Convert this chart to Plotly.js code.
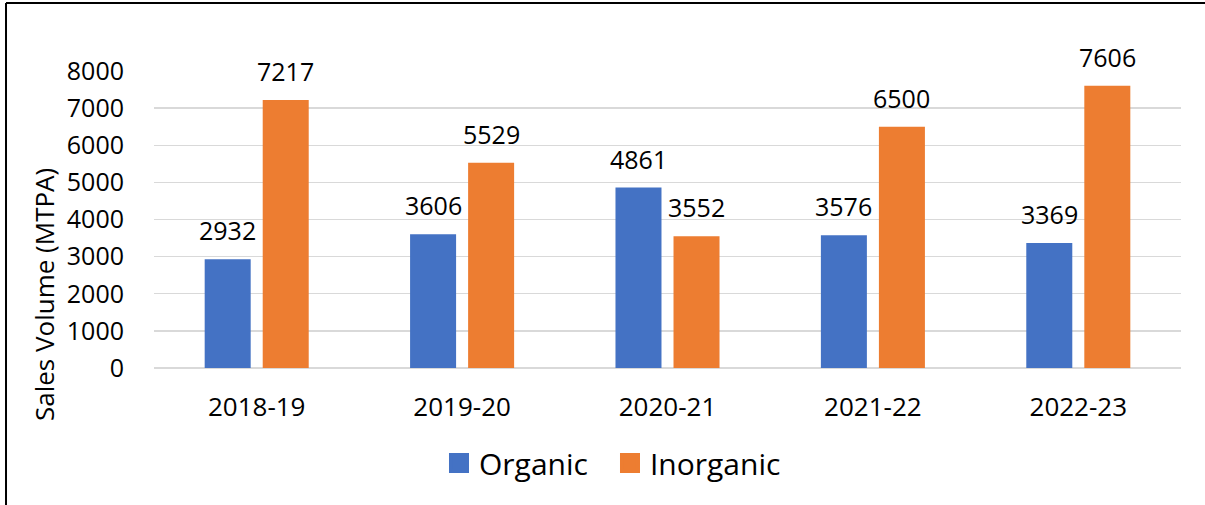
<!DOCTYPE html>
<html>
<head>
<meta charset="utf-8">
<script src="https://cdn.plot.ly/plotly-3.0.1.min.js"></script>
<style>
html,body{margin:0;padding:0;background:#fff;}
#chart{width:1205px;height:505px;}
</style>
</head>
<body>
<div id="chart"></div>
<script>
const categories = ['2018-19', '2019-20', '2020-21', '2021-22', '2022-23'];
const organic = [2932, 3606, 4861, 3576, 3369];
const inorganic = [7217, 5529, 3552, 6500, 7606];
const seriesNames = ['Organic', 'Inorganic'];
const yAxisTitle = 'Sales Volume (MTPA)';

const BLUE = '#4472C4';
const ORANGE = '#ED7D31';
const FONT = 'Open Sans, Noto Sans, sans-serif';

const traces = [
  {type: 'bar', name: seriesNames[0], x: categories, y: organic, marker: {color: BLUE}, showlegend: false, hoverinfo: 'x+y'},
  {type: 'bar', name: seriesNames[1], x: categories, y: inorganic, marker: {color: ORANGE}, showlegend: false, hoverinfo: 'x+y'},
  // legend entries (larger square symbols)
  {type: 'scatter', mode: 'markers', name: seriesNames[0], x: [categories[0]], y: [null],
   marker: {symbol: 'square', size: 16, color: BLUE, line: {color: BLUE, width: 4}}, hoverinfo: 'skip'},
  {type: 'scatter', mode: 'markers', name: seriesNames[1], x: [categories[0]], y: [null],
   marker: {symbol: 'square', size: 16, color: ORANGE, line: {color: ORANGE, width: 4}}, hoverinfo: 'skip'}
];

const annotations = [];
categories.forEach((c, i) => {
  annotations.push({x: c, y: organic[i], text: String(organic[i]), xref: 'x', yref: 'y',
    xshift: -29, yshift: 10, yanchor: 'bottom', showarrow: false, font: {family: FONT, size: 25, color: '#000'}});
  annotations.push({x: c, y: inorganic[i], text: String(inorganic[i]), xref: 'x', yref: 'y',
    xshift: 29, yshift: 10, yanchor: 'bottom', showarrow: false, font: {family: FONT, size: 25, color: '#000'}});
});
annotations.push({text: yAxisTitle, xref: 'paper', yref: 'paper', x: -0.1071, y: 0.2458,
  xanchor: 'center', yanchor: 'middle', textangle: -90, showarrow: false,
  font: {family: FONT, size: 26, color: '#000'}});

const layout = {
  width: 1205, height: 505,
  margin: {l: 154, r: 24, t: 71, b: 137},
  paper_bgcolor: '#fff', plot_bgcolor: '#fff',
  font: {family: FONT, color: '#000'},
  barmode: 'group', bargap: 0.435, bargroupgap: 0.207,
  xaxis: {
    type: 'category', showgrid: false, zeroline: false, showline: false,
    ticks: 'outside', ticklen: 16, tickcolor: 'rgba(0,0,0,0)',
    tickfont: {family: FONT, size: 26, color: '#000'}
  },
  yaxis: {
    range: [0, 8000], dtick: 1000, tick0: 0,
    showgrid: true, gridcolor: '#d9d9d9', gridwidth: 1.3,
    zeroline: true, zerolinecolor: '#d9d9d9', zerolinewidth: 1.3,
    showline: false, ticks: 'outside', ticklen: 24, tickcolor: 'rgba(0,0,0,0)',
    tickfont: {family: FONT, size: 25, color: '#000'}
  },
  showlegend: true,
  legend: {orientation: 'h', x: 0.2775, xanchor: 'left', y: -0.3199, yanchor: 'middle',
    font: {family: FONT, size: 30, color: '#000'}, itemwidth: 30, tracegroupgap: 0,
    entrywidth: 126, entrywidthmode: 'pixels'},
  annotations: annotations,
  shapes: [
    {type: 'line', xref: 'paper', yref: 'paper', x0: -0.1441, x1: 1.03, y0: 1.229, y1: 1.229, line: {color: '#000', width: 2}},
    {type: 'line', xref: 'paper', yref: 'paper', x0: -0.1441, x1: -0.1441, y0: 1.229, y1: -0.47, line: {color: '#000', width: 2}}
  ]
};

Plotly.newPlot('chart', traces, layout, {displayModeBar: false, staticPlot: true});
</script>
</body>
</html>
